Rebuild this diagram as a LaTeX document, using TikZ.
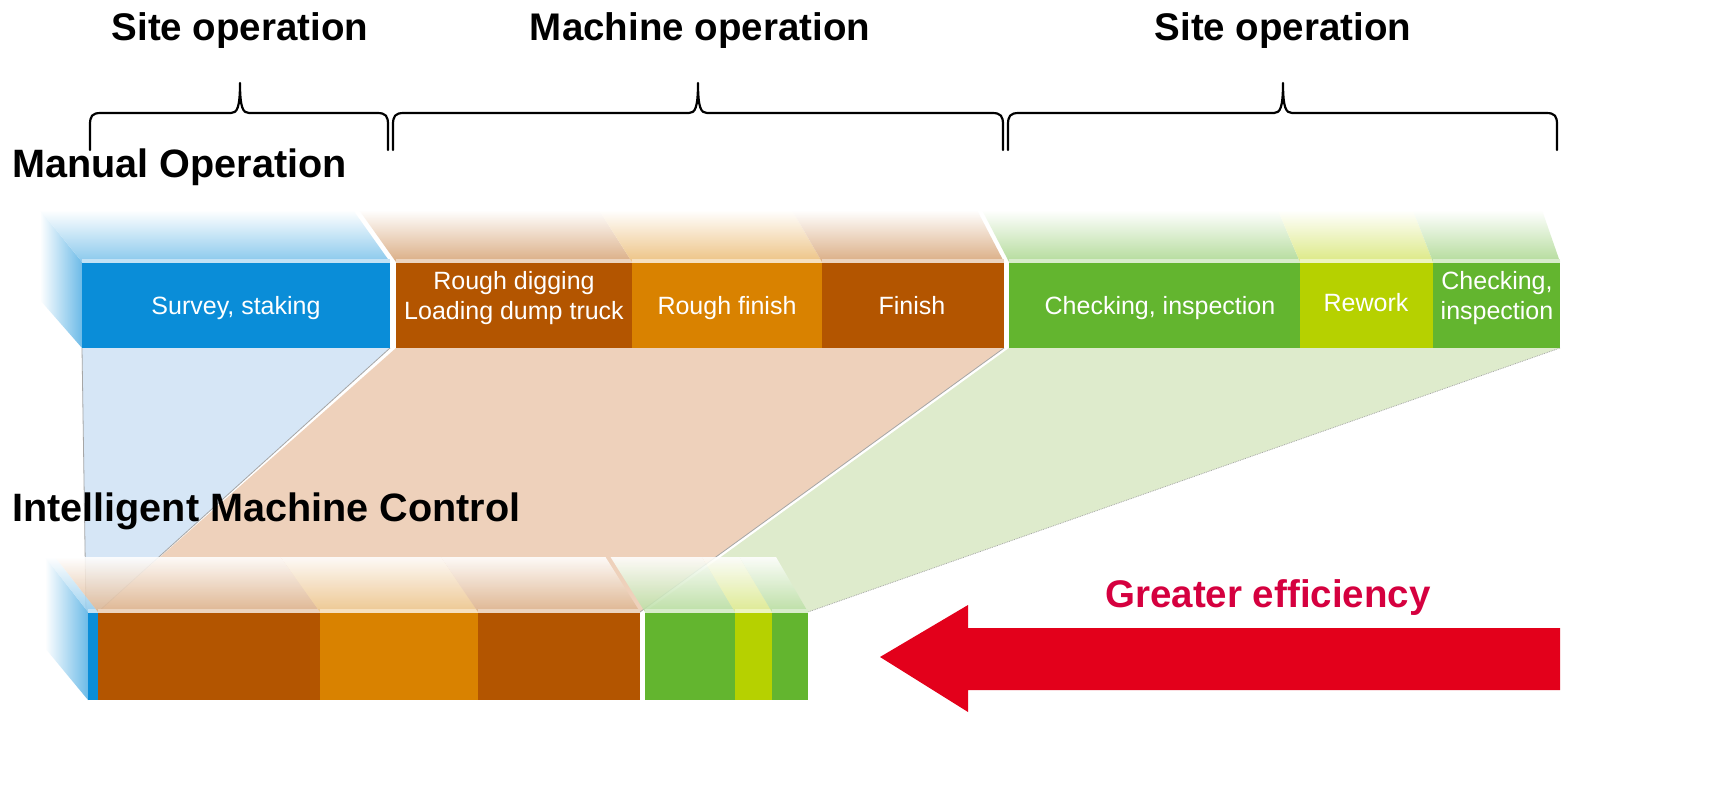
\documentclass[tikz,border=0pt]{standalone}
\usepackage{fontspec}
\setmainfont{Liberation Sans}
\definecolor{cblue}{HTML}{0A8DD8}
\definecolor{cbrown}{HTML}{B35500}
\definecolor{corange}{HTML}{D98200}
\definecolor{cgreen}{HTML}{63B52F}
\definecolor{clime}{HTML}{B6D100}
\definecolor{pblue}{HTML}{D6E6F6}
\definecolor{pbrown}{HTML}{EED1BB}
\definecolor{pgreen}{HTML}{DEEBCC}
\definecolor{cred}{HTML}{E3001B}
\definecolor{tred}{HTML}{D5003F}
\begin{document}
\begin{tikzpicture}[x=1pt,y=-1pt,
  head/.style={font=\fontsize{38.5}{40}\selectfont\bfseries, inner sep=0pt},
  bighead/.style={font=\fontsize{39.6}{41}\selectfont\bfseries, inner sep=0pt},
  lbl/.style={font=\fontsize{25}{30.5}\selectfont, text=white, inner sep=0pt, align=center},
  brace/.style={line width=2.2pt, line join=round, line cap=round},
  projedge/.style={gray!70, line width=0.8pt}]
\useasboundingbox (0,0) rectangle (1731,786);
\fill[white] (0,0) rectangle (1731,786);

% ---------- braces and phase labels
\foreach \xa/\xm/\xb in {90/240/388, 393/698/1003, 1008/1283/1557}{
  \draw[brace] (\xa,150) -- (\xa,125) .. controls (\xa,116) and (\xa+2,113) .. (\xa+11,113)
     -- (\xm-9,113) .. controls (\xm-3,113) and (\xm,108) .. (\xm,83)
     .. controls (\xm,108) and (\xm+3,113) .. (\xm+9,113)
     -- (\xb-11,113) .. controls (\xb-2,113) and (\xb,116) .. (\xb,125) -- (\xb,150);
}
\node[head, anchor=base] (site1) at (240,41) {Site operation};
\node[head, anchor=base] (mach) at (700,41) {Machine operation};
\node[head, anchor=base] (site2) at (1283,41) {Site operation};

% ---------- projections
\fill[pblue] (82,348) -- (390,348) -- (98,612) -- (86,612) -- cycle;
\fill[pbrown] (396,348) -- (1004,348) -- (640,612) -- (98,612) -- cycle;
\fill[pgreen] (1009,348) -- (1560,348) -- (808,612) -- (645,612) -- cycle;
\draw[projedge] (82,348) -- (86,612);
\draw[projedge] (390,348) -- (98,612);
\draw[projedge] (1004,348) -- (640,612);
\draw[projedge, densely dotted] (1560,348) -- (808,612);

% ---------- top bar (manual operation)
\shade[left color=white, right color=cblue!60!white] (40,210) -- (82,262) -- (82,348) -- (40,300) -- cycle;
\foreach \xa/\xb/\col in {82/390/cblue, 396/632/cbrown, 632/822/corange, 822/1004/cbrown,
                          1009/1300/cgreen, 1300/1433/clime, 1433/1560/cgreen}{
  \pgfmathsetmacro\ba{\xa-42+(\xa-82)*0.0162}
  \pgfmathsetmacro\bb{\xb-42+(\xb-82)*0.0162}
  \shade[top color=white, bottom color=\col!48!white] (\ba,210) -- (\bb,210) -- (\xb,262) -- (\xa,262) -- cycle;
  \fill[\col!25!white] (\xa,259) rectangle (\xb,263);
  \fill[\col] (\xa,263) rectangle (\xb,348);
}
\node[lbl, anchor=base] (survey) at (236,314) {Survey, staking};
\node[lbl] (rough) at (514,298) {Rough digging\\Loading dump truck};
\node[lbl, anchor=base] (rfinish) at (727,314) {Rough finish};
\node[lbl, anchor=base] (finish) at (912,314) {Finish};
\node[lbl, anchor=base] (check1) at (1160,314) {Checking, inspection};
\node[lbl, anchor=base] (rework) at (1366,311) {Rework};
\node[lbl] (check2) at (1497,298) {Checking,\\inspection};

% ---------- bottom bar (intelligent machine control)
\shade[left color=white, right color=cblue!60!white] (45,557) -- (88,612) -- (88,700) -- (45,648) -- cycle;
\foreach \xa/\xb/\col in {88/98/cblue, 98/320/cbrown, 320/478/corange, 478/640/cbrown,
                          645/735/cgreen, 735/772/clime, 772/808/cgreen}{
  \pgfmathsetmacro\ba{\xa-43+(\xa-88)*0.0153}
  \pgfmathsetmacro\bb{\xb-43+(\xb-88)*0.0153}
  \shade[top color=white, bottom color=\col!45!white, opacity=0.88] (\ba,557) -- (\bb,557) -- (\xb,612) -- (\xa,612) -- cycle;
  \fill[\col!25!white] (\xa,609) rectangle (\xb,613);
  \fill[\col] (\xa,613) rectangle (\xb,700);
}

% ---------- headings
\node[bighead, anchor=base west] (manual) at (12,178) {Manual Operation};
\node[bighead, anchor=base west] (imc) at (12,521) {Intelligent Machine Control};

% ---------- arrow
\fill[cred] (880,657) -- (968,605) -- (968,628) -- (1560,628) -- (1560,690) -- (968,690) -- (968,712) -- cycle;
\node[head, anchor=base, text=tred] (eff) at (1268,607) {Greater efficiency};
\end{tikzpicture}
\end{document}
